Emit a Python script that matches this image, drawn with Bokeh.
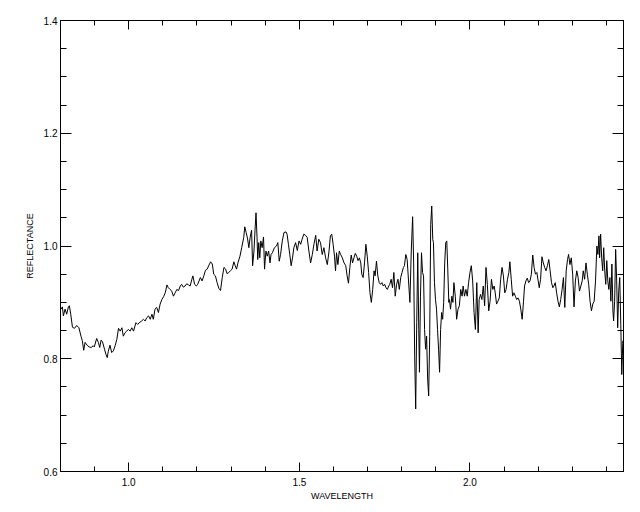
from bokeh.plotting import figure
from bokeh.models import Range1d, LinearAxis, FixedTicker, PrintfTickFormatter
from bokeh.embed import file_html
from bokeh.resources import INLINE

# Spectrum (wavelength, reflectance)
wavelength = [
    0.8016, 0.8055, 0.8085, 0.8133, 0.8182, 0.8231, 0.826, 0.830, 0.835, 0.841,
    0.8476, 0.854, 0.860, 0.864, 0.868, 0.872, 0.878, 0.884, 0.890, 0.896,
    0.899, 0.906, 0.911, 0.915, 0.919, 0.923, 0.929, 0.933, 0.937, 0.940,
    0.945, 0.950, 0.955, 0.960, 0.965, 0.970, 0.975, 0.980, 0.984, 0.989,
    0.994, 0.999, 1.004, 1.009, 1.014, 1.021, 1.026, 1.033, 1.038, 1.043,
    1.048, 1.053, 1.058, 1.063, 1.068, 1.072, 1.077, 1.082, 1.087, 1.092,
    1.097, 1.102, 1.107, 1.112, 1.116, 1.121, 1.126, 1.131, 1.136, 1.141,
    1.146, 1.151, 1.155, 1.160, 1.165, 1.170, 1.175, 1.180, 1.185, 1.188,
    1.193, 1.198, 1.202,
    1.210, 1.215, 1.220, 1.225, 1.230, 1.235, 1.240, 1.245, 1.249, 1.254,
    1.259, 1.264, 1.269, 1.274, 1.279, 1.284, 1.288, 1.293, 1.298, 1.303,
    1.308, 1.312, 1.316, 1.320, 1.326, 1.331, 1.337, 1.340, 1.344, 1.348,
    1.352, 1.356, 1.360, 1.363, 1.367, 1.370, 1.373, 1.376, 1.378, 1.381,
    1.384, 1.387, 1.391, 1.395, 1.398, 1.402, 1.406, 1.410, 1.414, 1.417,
    1.421, 1.427, 1.433, 1.437, 1.441, 1.445, 1.450, 1.455, 1.461, 1.464,
    1.468, 1.472, 1.476, 1.480, 1.484, 1.489, 1.494, 1.499, 1.504, 1.508,
    1.513, 1.518, 1.523, 1.528, 1.533, 1.538, 1.543, 1.548, 1.552, 1.557,
    1.562, 1.567, 1.572, 1.577, 1.582, 1.587, 1.591, 1.595, 1.599, 1.603,
    1.606, 1.609, 1.613, 1.617,
    1.621, 1.626, 1.631, 1.636, 1.640, 1.644, 1.648, 1.652, 1.656, 1.660,
    1.664, 1.668, 1.672, 1.676, 1.680, 1.683, 1.687, 1.691, 1.695, 1.699,
    1.703, 1.707, 1.711, 1.715, 1.719, 1.722, 1.726, 1.730, 1.734, 1.738,
    1.742, 1.746, 1.750, 1.754, 1.758, 1.762, 1.765, 1.769, 1.773, 1.777,
    1.781, 1.785, 1.789, 1.793, 1.797, 1.801, 1.805, 1.808, 1.812, 1.816,
    1.820, 1.824, 1.828, 1.832, 1.835, 1.838, 1.841, 1.844, 1.847, 1.850,
    1.852, 1.855, 1.858, 1.861, 1.864, 1.867, 1.870, 1.873, 1.876, 1.879,
    1.882, 1.885, 1.888, 1.891, 1.893, 1.896, 1.899, 1.902, 1.905, 1.908,
    1.911, 1.914, 1.917, 1.920, 1.923, 1.926, 1.929, 1.932, 1.935, 1.938,
    1.940, 1.943, 1.947, 1.950, 1.953, 1.957, 1.961, 1.965, 1.969, 1.973,
    1.977, 1.980, 1.984, 1.988, 1.992, 1.996, 2.000, 2.004, 2.008, 2.012,
    2.016, 2.020, 2.024, 2.027,
    2.031, 2.035, 2.039, 2.043, 2.047, 2.051, 2.055, 2.059, 2.063, 2.067,
    2.071, 2.074, 2.078, 2.082, 2.086, 2.090, 2.094, 2.098, 2.102, 2.106,
    2.110, 2.114, 2.117, 2.121, 2.125, 2.129, 2.133, 2.137, 2.141, 2.145,
    2.149, 2.153, 2.157, 2.160, 2.164, 2.168, 2.172, 2.176, 2.180, 2.184,
    2.188, 2.192, 2.196, 2.200, 2.203, 2.207, 2.211, 2.215, 2.219, 2.223,
    2.227, 2.231, 2.235, 2.239, 2.243, 2.246, 2.250, 2.254, 2.258, 2.262,
    2.266, 2.270, 2.274, 2.278, 2.282, 2.286, 2.289, 2.293, 2.297, 2.301,
    2.305, 2.309, 2.313, 2.317, 2.321, 2.325, 2.329, 2.332, 2.336, 2.340,
    2.344, 2.348, 2.352, 2.356, 2.360, 2.364, 2.368, 2.372, 2.375, 2.378,
    2.380, 2.383, 2.386, 2.389, 2.392, 2.395, 2.398, 2.401, 2.404, 2.407,
    2.410, 2.413, 2.416, 2.419, 2.421, 2.424, 2.427, 2.430, 2.433, 2.436,
    2.439, 2.442, 2.445, 2.448,
]

reflectance = [
    0.888, 0.892, 0.876, 0.888, 0.879, 0.892, 0.894, 0.879, 0.856, 0.854,
    0.859, 0.855, 0.840, 0.832, 0.815, 0.829, 0.824, 0.821, 0.820, 0.823,
    0.821, 0.836, 0.829, 0.820, 0.833, 0.830, 0.817, 0.808, 0.802, 0.813,
    0.824, 0.811, 0.814, 0.823, 0.834, 0.854, 0.849, 0.855, 0.840, 0.846,
    0.849, 0.852, 0.849, 0.855, 0.849, 0.864, 0.861, 0.865, 0.867, 0.870,
    0.867, 0.873, 0.876, 0.870, 0.879, 0.870, 0.888, 0.891, 0.882, 0.897,
    0.905, 0.910, 0.917, 0.931, 0.926, 0.923, 0.920, 0.911, 0.917, 0.923,
    0.921, 0.929, 0.932, 0.927, 0.929, 0.933, 0.931, 0.929, 0.941, 0.947,
    0.932, 0.929, 0.932,
    0.944, 0.938, 0.947, 0.957, 0.959, 0.966, 0.972, 0.968, 0.950, 0.947,
    0.935, 0.925, 0.921, 0.944, 0.962, 0.959, 0.951, 0.953, 0.956, 0.959,
    0.972, 0.965, 0.959, 0.970, 0.982, 0.997, 1.015, 1.034, 1.024, 1.014,
    0.997, 1.016, 1.028, 0.965, 0.991, 1.027, 1.059, 1.015, 0.976, 1.006,
    0.979, 1.009, 0.997, 1.016, 0.959, 0.991, 0.982, 0.991, 0.970, 0.985,
    0.988, 0.997, 1.000, 1.006, 0.973, 0.985, 1.009, 1.024, 1.025, 1.021,
    1.003, 0.985, 0.965, 0.979, 0.997, 1.006, 0.992, 1.009, 1.003, 1.012,
    1.021, 1.019, 1.015, 0.991, 0.970, 0.985, 1.004, 1.019, 0.991, 1.012,
    1.006, 0.985, 0.997, 0.979, 0.967, 0.991, 1.018, 1.021, 1.003, 0.982,
    0.956, 0.988, 0.967, 0.991,
    0.985, 0.979, 0.970, 0.965, 0.947, 0.934, 0.962, 0.984, 0.970, 0.979,
    0.987, 0.982, 0.974, 0.979, 0.970, 0.950, 0.944, 0.970, 1.003, 0.982,
    0.953, 0.917, 0.900, 0.923, 0.956, 0.947, 0.973, 0.947, 0.935, 0.932,
    0.935, 0.929, 0.932, 0.926, 0.923, 0.929, 0.932, 0.941, 0.926, 0.953,
    0.911, 0.932, 0.941, 0.923, 0.944, 0.953, 0.962, 0.965, 0.985, 0.976,
    0.938, 0.900, 0.991, 1.052, 0.970, 0.805, 0.711, 0.864, 0.988, 0.852,
    0.776, 0.911, 0.988, 0.953, 0.947, 0.852, 0.817, 0.840, 0.764, 0.734,
    0.840, 1.038, 1.071, 1.012, 1.006, 0.935, 0.905, 0.888, 0.852, 0.817,
    0.776, 0.852, 0.882, 0.870, 0.900, 0.970, 1.006, 1.009, 0.959, 0.900,
    0.905, 0.888, 0.911, 0.900, 0.935, 0.911, 0.870, 0.888, 0.894, 0.923,
    0.911, 0.929, 0.911, 0.923, 0.911, 0.935, 0.953, 0.965, 0.938, 0.882,
    0.852, 0.935, 0.846, 0.905,
    0.914, 0.905, 0.929, 0.894, 0.962, 0.932, 0.885, 0.902, 0.941, 0.923,
    0.929, 0.917, 0.897, 0.902, 0.908, 0.941, 0.962, 0.947, 0.917, 0.923,
    0.941, 0.953, 0.972, 0.941, 0.911, 0.917, 0.911, 0.905, 0.908, 0.902,
    0.888, 0.870, 0.902, 0.929, 0.938, 0.943, 0.935, 0.938, 0.950, 0.984,
    0.962, 0.950, 0.953, 0.938, 0.926, 0.941, 0.981, 0.970, 0.962, 0.956,
    0.965, 0.976, 0.956, 0.935, 0.926, 0.929, 0.935, 0.917, 0.902, 0.892,
    0.905, 0.923, 0.944, 0.891, 0.956, 0.976, 0.985, 0.967, 0.979, 0.950,
    0.892, 0.938, 0.956, 0.944, 0.920, 0.929, 0.938, 0.956, 0.941, 0.970,
    0.950, 0.932, 0.902, 0.885, 0.897, 0.902, 0.938, 1.000, 0.985, 1.018,
    0.979, 1.021, 0.979, 0.956, 0.997, 0.956, 0.932, 0.974, 0.938, 0.923,
    0.944, 0.902, 0.968, 0.885, 0.867, 0.902, 0.994, 0.938, 0.855, 0.920,
    0.944, 0.861, 0.772, 0.832,
]

x_major = [1.0, 1.5, 2.0]
x_minor = [0.9, 1.1, 1.2, 1.3, 1.4, 1.6, 1.7, 1.8, 1.9, 2.1, 2.2, 2.3, 2.4]
y_major = [0.6, 0.8, 1.0, 1.2, 1.4]
y_minor = [0.65, 0.7, 0.75, 0.85, 0.9, 0.95, 1.05, 1.1, 1.15, 1.25, 1.3, 1.35]

FONT = "Liberation Sans"

p = figure(
    width=632, height=504,
    x_range=Range1d(0.8, 2.45), y_range=Range1d(0.6, 1.4),
    output_backend="svg", toolbar_location=None,
    x_axis_label="WAVELENGTH", y_axis_label="REFLECTANCE",
    min_border_left=60, min_border_right=9, min_border_top=20, min_border_bottom=33,
)
p.background_fill_color = "white"
p.border_fill_color = "white"
p.outline_line_color = "black"
p.outline_line_width = 1
p.xgrid.visible = False
p.ygrid.visible = False

p.line(wavelength, reflectance, line_color="black", line_width=1)


def style(ax, tick_len, minor_len):
    ax.axis_line_color = "black"
    ax.major_tick_line_color = "black"
    ax.minor_tick_line_color = "black"
    ax.major_tick_in = tick_len
    ax.major_tick_out = 0
    ax.minor_tick_in = minor_len
    ax.minor_tick_out = 0
    ax.major_label_text_font = FONT
    ax.major_label_text_font_size = "10px"
    ax.major_label_text_color = "black"
    ax.axis_label_text_font = FONT
    ax.axis_label_text_font_style = "normal"
    ax.axis_label_text_color = "black"
    ax.axis_label_text_font_size = "9px"


xa = p.xaxis[0]
xa.ticker = FixedTicker(ticks=x_major, minor_ticks=x_minor)
xa.formatter = PrintfTickFormatter(format="%.1f")
style(xa, 9, 5)
xa.major_label_standoff = 6
xa.axis_label_standoff = 2

ya = p.yaxis[0]
ya.ticker = FixedTicker(ticks=y_major, minor_ticks=y_minor)
ya.formatter = PrintfTickFormatter(format="%.1f")
style(ya, 11, 6)
ya.major_label_standoff = 3
ya.axis_label_standoff = 6


# Mirror ticks on the top and right edges: unlabeled axes that carry only
# "minor" ticks (so no labels are produced); one axis for the short ticks
# and one for the long ticks at the labeled positions.
def mirror(side, positions, length):
    ax = LinearAxis(ticker=FixedTicker(ticks=[], minor_ticks=positions))
    ax.axis_line_color = "black"
    ax.major_tick_line_color = None
    ax.minor_tick_line_color = "black"
    ax.major_tick_in = 0
    ax.major_tick_out = 0
    ax.minor_tick_in = length
    ax.minor_tick_out = 0
    ax.major_label_standoff = 0
    ax.axis_label_standoff = 0
    p.add_layout(ax, side)


mirror("above", x_minor, 5)
mirror("above", x_major, 9)
mirror("right", y_minor, 6)
mirror("right", y_major, 11)

open("out.html", "w").write(file_html(p, INLINE))
